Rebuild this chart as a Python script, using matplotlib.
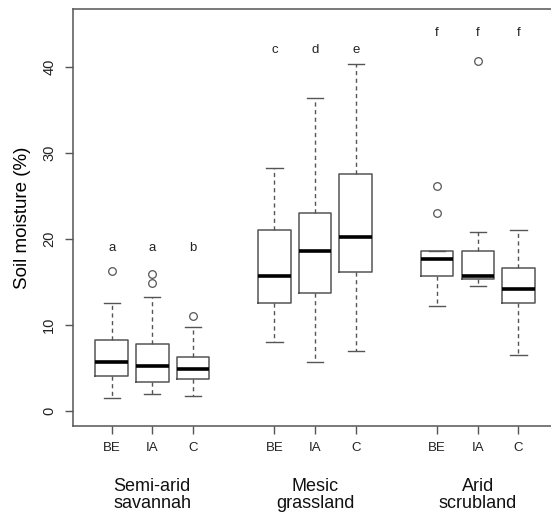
import matplotlib
matplotlib.use('Agg')
import matplotlib.pyplot as plt

plt.rcParams['font.family'] = ['Liberation Sans', 'DejaVu Sans']

# treatments and groups
treatments = ['BE', 'IA', 'C'] * 3
groups = ['Semi-arid\nsavannah', 'Mesic\ngrassland', 'Arid\nscrubland']
positions = [1, 2, 3, 5, 6, 7, 9, 10, 11]
letters = ['a', 'a', 'b', 'c', 'd', 'e', 'f', 'f', 'f']
letter_y = [19, 19, 19, 42, 42, 42, 44, 44, 44]

# box stats
whislo = [1.5, 2.0, 1.7, 8.0, 5.7, 7.0, 12.2, 14.5, 6.5]
q1 = [4.1, 3.4, 3.7, 12.6, 13.7, 16.2, 15.7, 15.3, 12.5]
med = [5.7, 5.2, 4.9, 15.7, 18.6, 20.2, 17.7, 15.7, 14.2]
q3 = [8.2, 7.8, 6.3, 21.1, 23.0, 27.6, 18.6, 18.6, 16.6]
whishi = [12.5, 13.3, 9.8, 28.3, 36.4, 40.3, 18.6, 20.8, 21.1]
fliers = [[16.3], [15.9, 14.9], [11.1], [], [], [], [26.2, 23.0], [40.7], []]

stats = []
for i in range(len(med)):
    stats.append({'whislo': whislo[i], 'q1': q1[i], 'med': med[i], 'q3': q3[i],
                  'whishi': whishi[i], 'fliers': fliers[i]})

gray = '#555555'
fig = plt.figure(figsize=(5.51, 5.13), dpi=100)
ax = fig.add_axes([73/551, 87/513, 1 - 73/551, 417/513])

ax.bxp(stats, positions=positions, widths=0.8, patch_artist=False,
       boxprops=dict(color=gray, lw=1.1),
       medianprops=dict(color='black', lw=2.6, solid_capstyle='butt'),
       whiskerprops=dict(color=gray, lw=1.0, linestyle=(0, (3, 2.5))),
       capprops=dict(color=gray, lw=1.0),
       flierprops=dict(marker='o', markerfacecolor='none', markeredgecolor=gray,
                       markersize=5.5, markeredgewidth=0.9),
       capwidths=0.4)

for p, l, y in zip(positions, letters, letter_y):
    ax.text(p, y, l, ha='center', va='center', fontsize=9.5, color='#222222')

ax.set_xlim(0.05, 11.8)
ax.set_ylim(-1.75, 46.75)
ax.set_yticks([0, 10, 20, 30, 40])
ax.set_yticklabels(['0', '10', '20', '30', '40'], rotation=90, va='center')
ax.set_xticks(positions)
ax.set_xticklabels(treatments)
ax.tick_params(axis='both', color=gray, length=5.5, width=1.0, labelsize=9.5,
               labelcolor='#222222', pad=6)
ax.tick_params(axis='y', labelsize=10.5, pad=6.5)
ax.spines['right'].set_visible(False)
for s in ['left', 'top', 'bottom']:
    ax.spines[s].set_color(gray)
    ax.spines[s].set_linewidth(1.1)

ax.set_ylabel('Soil moisture (%)', fontsize=13.5, labelpad=8)

for j, g in enumerate(groups):
    ax.text(positions[3 * j + 1], -11.3, g, ha='center', va='baseline',
            fontsize=13, linespacing=1.02, color='#111111', clip_on=False)

fig.savefig('out.png', dpi=100)
